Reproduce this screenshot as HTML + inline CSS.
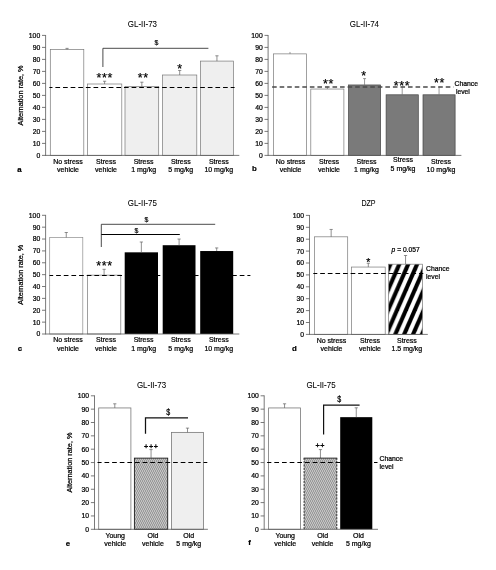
<!DOCTYPE html>
<html lang="en"><head><meta charset="utf-8"><title>Alternation rate figure</title>
<style>html,body{margin:0;padding:0;background:#fff}svg{display:block}text{stroke:#000;stroke-width:.22px}text.t{stroke-width:.06px}</style></head>
<body>
<svg width="496" height="570" viewBox="0 0 496 570" font-family='&quot;Liberation Sans&quot;, sans-serif' fill="#000">
<defs>
<pattern id="stripe" patternUnits="userSpaceOnUse" x="390.3" y="264.6" width="8.87" height="20.31">
<rect x="0" y="0" width="8.87" height="20.31" fill="#fff"/>
<g stroke="#000" stroke-width="4.1">
<line x1="-8.87" y1="40.62" x2="17.74" y2="-20.31"/>
<line x1="-17.74" y1="40.62" x2="8.87" y2="-20.31"/>
<line x1="0" y1="40.62" x2="26.61" y2="-20.31"/>
</g>
</pattern>
<pattern id="hatch" patternUnits="userSpaceOnUse" width="2" height="4">
<rect width="2" height="4" fill="#d8d8d8"/>
<g stroke="#6a6a6a" stroke-width="0.75">
<line x1="-2" y1="-4" x2="2" y2="4"/>
<line x1="0" y1="-4" x2="4" y2="4"/>
<line x1="-4" y1="-4" x2="0" y2="4"/>
</g>
</pattern>
</defs>
<rect width="496" height="570" fill="#fff"/>
<g id="pa">
<text class="t" x="142.40" y="27.00" font-size="8.2" text-anchor="middle" textLength="29.2" lengthAdjust="spacingAndGlyphs">GL-II-73</text>
<rect x="50.30" y="49.56" width="33.50" height="105.84" fill="#fff" stroke="#787878" stroke-width="0.7"/>
<line x1="67.05" y1="49.56" x2="67.05" y2="48.36" stroke="#606060" stroke-width="0.7"/>
<line x1="65.45" y1="48.36" x2="68.65" y2="48.36" stroke="#606060" stroke-width="0.7"/>
<rect x="87.40" y="84.00" width="34.40" height="71.40" fill="#fff" stroke="#787878" stroke-width="0.7"/>
<line x1="104.60" y1="84.00" x2="104.60" y2="81.24" stroke="#606060" stroke-width="0.7"/>
<line x1="103.00" y1="81.24" x2="106.20" y2="81.24" stroke="#606060" stroke-width="0.7"/>
<rect x="125.00" y="86.64" width="33.70" height="68.76" fill="#efefef" stroke="#787878" stroke-width="0.7"/>
<line x1="141.85" y1="86.64" x2="141.85" y2="82.20" stroke="#606060" stroke-width="0.7"/>
<line x1="140.25" y1="82.20" x2="143.45" y2="82.20" stroke="#606060" stroke-width="0.7"/>
<rect x="162.60" y="75.00" width="34.20" height="80.40" fill="#efefef" stroke="#787878" stroke-width="0.7"/>
<line x1="179.70" y1="75.00" x2="179.70" y2="70.44" stroke="#606060" stroke-width="0.7"/>
<line x1="178.10" y1="70.44" x2="181.30" y2="70.44" stroke="#606060" stroke-width="0.7"/>
<rect x="200.40" y="61.08" width="33.10" height="94.32" fill="#efefef" stroke="#787878" stroke-width="0.7"/>
<line x1="216.95" y1="61.08" x2="216.95" y2="55.80" stroke="#606060" stroke-width="0.7"/>
<line x1="215.35" y1="55.80" x2="218.55" y2="55.80" stroke="#606060" stroke-width="0.7"/>
<line x1="45.60" y1="35.00" x2="45.60" y2="155.80" stroke="#585858" stroke-width="0.8"/>
<line x1="42.00" y1="155.40" x2="239.30" y2="155.40" stroke="#585858" stroke-width="0.8"/>
<text x="40.20" y="157.85" font-size="6.8" text-anchor="end">0</text>
<line x1="42.00" y1="143.40" x2="45.60" y2="143.40" stroke="#585858" stroke-width="0.8"/>
<text x="40.20" y="145.85" font-size="6.8" text-anchor="end">10</text>
<line x1="42.00" y1="131.40" x2="45.60" y2="131.40" stroke="#585858" stroke-width="0.8"/>
<text x="40.20" y="133.85" font-size="6.8" text-anchor="end">20</text>
<line x1="42.00" y1="119.40" x2="45.60" y2="119.40" stroke="#585858" stroke-width="0.8"/>
<text x="40.20" y="121.85" font-size="6.8" text-anchor="end">30</text>
<line x1="42.00" y1="107.40" x2="45.60" y2="107.40" stroke="#585858" stroke-width="0.8"/>
<text x="40.20" y="109.85" font-size="6.8" text-anchor="end">40</text>
<line x1="42.00" y1="95.40" x2="45.60" y2="95.40" stroke="#585858" stroke-width="0.8"/>
<text x="40.20" y="97.85" font-size="6.8" text-anchor="end">50</text>
<line x1="42.00" y1="83.40" x2="45.60" y2="83.40" stroke="#585858" stroke-width="0.8"/>
<text x="40.20" y="85.85" font-size="6.8" text-anchor="end">60</text>
<line x1="42.00" y1="71.40" x2="45.60" y2="71.40" stroke="#585858" stroke-width="0.8"/>
<text x="40.20" y="73.85" font-size="6.8" text-anchor="end">70</text>
<line x1="42.00" y1="59.40" x2="45.60" y2="59.40" stroke="#585858" stroke-width="0.8"/>
<text x="40.20" y="61.85" font-size="6.8" text-anchor="end">80</text>
<line x1="42.00" y1="47.40" x2="45.60" y2="47.40" stroke="#585858" stroke-width="0.8"/>
<text x="40.20" y="49.85" font-size="6.8" text-anchor="end">90</text>
<line x1="42.00" y1="35.40" x2="45.60" y2="35.40" stroke="#585858" stroke-width="0.8"/>
<text x="40.20" y="37.85" font-size="6.8" text-anchor="end">100</text>
<text transform="translate(23.30,95.40) rotate(-90)" font-size="6.7" text-anchor="middle" textLength="60" lengthAdjust="spacingAndGlyphs">Alternation rate, %</text>
<line x1="49.40" y1="87.50" x2="234.60" y2="87.50" stroke="#000" stroke-width="1.0" stroke-dasharray="4.7 2.92" stroke-dashoffset="1.62"/>
<path d="M102.9 67 V48.3 H208.4" fill="none" stroke="#2a2a2a" stroke-width="0.85"/>
<text x="156.45" y="45.40" font-size="8.0" text-anchor="middle" textLength="3.84" lengthAdjust="spacingAndGlyphs">$</text>
<text x="104.85" y="81.90" font-size="12.5" text-anchor="middle" letter-spacing="0.7">***</text>
<text x="143.35" y="82.30" font-size="12.5" text-anchor="middle" letter-spacing="0.7">**</text>
<text x="180.15" y="72.60" font-size="12.5" text-anchor="middle" letter-spacing="0.7">*</text>
<text x="68.00" y="163.80" font-size="7.0" text-anchor="middle">No stress</text>
<text x="68.00" y="171.80" font-size="7.0" text-anchor="middle">vehicle</text>
<text x="106.00" y="163.80" font-size="7.0" text-anchor="middle">Stress</text>
<text x="106.00" y="171.80" font-size="7.0" text-anchor="middle">vehicle</text>
<text x="143.60" y="163.50" font-size="7.0" text-anchor="middle">Stress</text>
<text x="143.60" y="171.50" font-size="7.0" text-anchor="middle">1 mg/kg</text>
<text x="180.80" y="163.50" font-size="7.0" text-anchor="middle">Stress</text>
<text x="180.80" y="171.50" font-size="7.0" text-anchor="middle">5 mg/kg</text>
<text x="218.80" y="163.50" font-size="7.0" text-anchor="middle">Stress</text>
<text x="218.80" y="171.50" font-size="7.0" text-anchor="middle">10 mg/kg</text>
<text x="17.20" y="171.60" font-size="7.8" text-anchor="start" font-weight="bold">a</text>
</g>
<g id="pb">
<text class="t" x="364.40" y="26.80" font-size="8.2" text-anchor="middle" textLength="29.2" lengthAdjust="spacingAndGlyphs">GL-II-74</text>
<rect x="273.50" y="53.88" width="33.00" height="101.52" fill="#fff" stroke="#787878" stroke-width="0.7"/>
<line x1="290.00" y1="53.88" x2="290.00" y2="51.96" stroke="#707070" stroke-width="0.7"/>
<line x1="290.00" y1="51.96" x2="290.00" y2="51.96" stroke="#707070" stroke-width="0.7"/>
<rect x="310.80" y="89.04" width="33.10" height="66.36" fill="#fff" stroke="#787878" stroke-width="0.7"/>
<line x1="327.35" y1="89.04" x2="327.35" y2="86.40" stroke="#707070" stroke-width="0.7"/>
<line x1="327.35" y1="86.40" x2="327.35" y2="86.40" stroke="#707070" stroke-width="0.7"/>
<rect x="348.50" y="84.96" width="32.10" height="70.44" fill="#7a7a7a" stroke="#444" stroke-width="0.7"/>
<line x1="364.55" y1="84.96" x2="364.55" y2="78.60" stroke="#707070" stroke-width="0.7"/>
<line x1="363.05" y1="78.60" x2="366.05" y2="78.60" stroke="#707070" stroke-width="0.7"/>
<rect x="386.10" y="94.80" width="32.20" height="60.60" fill="#7a7a7a" stroke="#444" stroke-width="0.7"/>
<line x1="402.20" y1="94.80" x2="402.20" y2="86.40" stroke="#707070" stroke-width="0.7"/>
<line x1="402.20" y1="86.40" x2="402.20" y2="86.40" stroke="#707070" stroke-width="0.7"/>
<rect x="423.00" y="94.80" width="32.10" height="60.60" fill="#7a7a7a" stroke="#444" stroke-width="0.7"/>
<line x1="439.05" y1="94.80" x2="439.05" y2="86.40" stroke="#707070" stroke-width="0.7"/>
<line x1="439.05" y1="86.40" x2="439.05" y2="86.40" stroke="#707070" stroke-width="0.7"/>
<line x1="268.10" y1="35.00" x2="268.10" y2="155.80" stroke="#585858" stroke-width="0.8"/>
<line x1="264.50" y1="155.40" x2="461.40" y2="155.40" stroke="#585858" stroke-width="0.8"/>
<text x="262.70" y="157.85" font-size="6.8" text-anchor="end">0</text>
<line x1="264.50" y1="143.40" x2="268.10" y2="143.40" stroke="#585858" stroke-width="0.8"/>
<text x="262.70" y="145.85" font-size="6.8" text-anchor="end">10</text>
<line x1="264.50" y1="131.40" x2="268.10" y2="131.40" stroke="#585858" stroke-width="0.8"/>
<text x="262.70" y="133.85" font-size="6.8" text-anchor="end">20</text>
<line x1="264.50" y1="119.40" x2="268.10" y2="119.40" stroke="#585858" stroke-width="0.8"/>
<text x="262.70" y="121.85" font-size="6.8" text-anchor="end">30</text>
<line x1="264.50" y1="107.40" x2="268.10" y2="107.40" stroke="#585858" stroke-width="0.8"/>
<text x="262.70" y="109.85" font-size="6.8" text-anchor="end">40</text>
<line x1="264.50" y1="95.40" x2="268.10" y2="95.40" stroke="#585858" stroke-width="0.8"/>
<text x="262.70" y="97.85" font-size="6.8" text-anchor="end">50</text>
<line x1="264.50" y1="83.40" x2="268.10" y2="83.40" stroke="#585858" stroke-width="0.8"/>
<text x="262.70" y="85.85" font-size="6.8" text-anchor="end">60</text>
<line x1="264.50" y1="71.40" x2="268.10" y2="71.40" stroke="#585858" stroke-width="0.8"/>
<text x="262.70" y="73.85" font-size="6.8" text-anchor="end">70</text>
<line x1="264.50" y1="59.40" x2="268.10" y2="59.40" stroke="#585858" stroke-width="0.8"/>
<text x="262.70" y="61.85" font-size="6.8" text-anchor="end">80</text>
<line x1="264.50" y1="47.40" x2="268.10" y2="47.40" stroke="#585858" stroke-width="0.8"/>
<text x="262.70" y="49.85" font-size="6.8" text-anchor="end">90</text>
<line x1="264.50" y1="35.40" x2="268.10" y2="35.40" stroke="#585858" stroke-width="0.8"/>
<text x="262.70" y="37.85" font-size="6.8" text-anchor="end">100</text>
<line x1="272.10" y1="86.90" x2="453.60" y2="86.90" stroke="#4a4a4a" stroke-width="1.5" stroke-dasharray="4.6 2.95" stroke-dashoffset="0"/>
<text x="328.55" y="88.40" font-size="12.5" text-anchor="middle" letter-spacing="0.7">**</text>
<text x="364.05" y="79.70" font-size="12.5" text-anchor="middle" letter-spacing="0.7">*</text>
<text x="402.05" y="89.70" font-size="12.5" text-anchor="middle" letter-spacing="0.7">***</text>
<text x="439.45" y="87.10" font-size="12.5" text-anchor="middle" letter-spacing="0.7">**</text>
<text x="454.60" y="85.70" font-size="6.8" text-anchor="start">Chance</text>
<text x="455.90" y="93.80" font-size="6.8" text-anchor="start">level</text>
<text x="290.60" y="163.80" font-size="7.0" text-anchor="middle">No stress</text>
<text x="290.60" y="171.80" font-size="7.0" text-anchor="middle">vehicle</text>
<text x="329.00" y="163.80" font-size="7.0" text-anchor="middle">Stress</text>
<text x="329.00" y="171.80" font-size="7.0" text-anchor="middle">vehicle</text>
<text x="366.50" y="163.80" font-size="7.0" text-anchor="middle">Stress</text>
<text x="366.50" y="171.80" font-size="7.0" text-anchor="middle">1 mg/kg</text>
<text x="403.00" y="162.40" font-size="7.0" text-anchor="middle">Stress</text>
<text x="403.00" y="170.80" font-size="7.0" text-anchor="middle">5 mg/kg</text>
<text x="441.00" y="163.70" font-size="7.0" text-anchor="middle">Stress</text>
<text x="441.00" y="172.00" font-size="7.0" text-anchor="middle">10 mg/kg</text>
<text x="252.00" y="171.20" font-size="7.8" text-anchor="start" font-weight="bold">b</text>
</g>
<g id="pc">
<text class="t" x="142.30" y="205.80" font-size="8.2" text-anchor="middle" textLength="29.2" lengthAdjust="spacingAndGlyphs">GL-II-75</text>
<rect x="49.70" y="237.50" width="33.10" height="96.50" fill="#fff" stroke="#8c8c8c" stroke-width="0.7"/>
<line x1="66.25" y1="237.50" x2="66.25" y2="232.51" stroke="#606060" stroke-width="0.7"/>
<line x1="64.65" y1="232.51" x2="67.85" y2="232.51" stroke="#606060" stroke-width="0.7"/>
<rect x="87.40" y="275.12" width="33.40" height="58.88" fill="#fff" stroke="#787878" stroke-width="0.7"/>
<line x1="104.10" y1="275.12" x2="104.10" y2="269.31" stroke="#606060" stroke-width="0.7"/>
<line x1="102.50" y1="269.31" x2="105.70" y2="269.31" stroke="#606060" stroke-width="0.7"/>
<rect x="124.70" y="252.33" width="33.30" height="81.67" fill="#000" stroke="#000" stroke-width="0"/>
<line x1="141.35" y1="252.33" x2="141.35" y2="242.01" stroke="#606060" stroke-width="0.7"/>
<line x1="139.75" y1="242.01" x2="142.95" y2="242.01" stroke="#606060" stroke-width="0.7"/>
<rect x="162.70" y="245.21" width="32.80" height="88.79" fill="#000" stroke="#000" stroke-width="0"/>
<line x1="179.10" y1="245.21" x2="179.10" y2="239.04" stroke="#606060" stroke-width="0.7"/>
<line x1="177.50" y1="239.04" x2="180.70" y2="239.04" stroke="#606060" stroke-width="0.7"/>
<rect x="200.20" y="251.03" width="33.00" height="82.97" fill="#000" stroke="#000" stroke-width="0"/>
<line x1="216.70" y1="251.03" x2="216.70" y2="247.94" stroke="#606060" stroke-width="0.7"/>
<line x1="215.10" y1="247.94" x2="218.30" y2="247.94" stroke="#606060" stroke-width="0.7"/>
<line x1="45.60" y1="214.90" x2="45.60" y2="334.40" stroke="#585858" stroke-width="0.8"/>
<line x1="42.00" y1="334.00" x2="239.30" y2="334.00" stroke="#585858" stroke-width="0.8"/>
<text x="40.20" y="336.45" font-size="6.8" text-anchor="end">0</text>
<line x1="42.00" y1="322.13" x2="45.60" y2="322.13" stroke="#585858" stroke-width="0.8"/>
<text x="40.20" y="324.58" font-size="6.8" text-anchor="end">10</text>
<line x1="42.00" y1="310.26" x2="45.60" y2="310.26" stroke="#585858" stroke-width="0.8"/>
<text x="40.20" y="312.71" font-size="6.8" text-anchor="end">20</text>
<line x1="42.00" y1="298.39" x2="45.60" y2="298.39" stroke="#585858" stroke-width="0.8"/>
<text x="40.20" y="300.84" font-size="6.8" text-anchor="end">30</text>
<line x1="42.00" y1="286.52" x2="45.60" y2="286.52" stroke="#585858" stroke-width="0.8"/>
<text x="40.20" y="288.97" font-size="6.8" text-anchor="end">40</text>
<line x1="42.00" y1="274.65" x2="45.60" y2="274.65" stroke="#585858" stroke-width="0.8"/>
<text x="40.20" y="277.10" font-size="6.8" text-anchor="end">50</text>
<line x1="42.00" y1="262.78" x2="45.60" y2="262.78" stroke="#585858" stroke-width="0.8"/>
<text x="40.20" y="265.23" font-size="6.8" text-anchor="end">60</text>
<line x1="42.00" y1="250.91" x2="45.60" y2="250.91" stroke="#585858" stroke-width="0.8"/>
<text x="40.20" y="253.36" font-size="6.8" text-anchor="end">70</text>
<line x1="42.00" y1="239.04" x2="45.60" y2="239.04" stroke="#585858" stroke-width="0.8"/>
<text x="40.20" y="241.49" font-size="6.8" text-anchor="end">80</text>
<line x1="42.00" y1="227.17" x2="45.60" y2="227.17" stroke="#585858" stroke-width="0.8"/>
<text x="40.20" y="229.62" font-size="6.8" text-anchor="end">90</text>
<line x1="42.00" y1="215.30" x2="45.60" y2="215.30" stroke="#585858" stroke-width="0.8"/>
<text x="40.20" y="217.75" font-size="6.8" text-anchor="end">100</text>
<text transform="translate(23.30,274.65) rotate(-90)" font-size="6.7" text-anchor="middle" textLength="60" lengthAdjust="spacingAndGlyphs">Alternation rate, %</text>
<line x1="49.50" y1="275.50" x2="250.40" y2="275.50" stroke="#000" stroke-width="1.0" stroke-dasharray="4.7 2.95" stroke-dashoffset="1.02"/>
<path d="M101.3 247 V224.3 H215.2" fill="none" stroke="#2a2a2a" stroke-width="0.85"/>
<path d="M101.3 234.5 H179.8" fill="none" stroke="#000" stroke-width="1.15"/>
<text x="146.40" y="222.40" font-size="8.0" text-anchor="middle" textLength="3.84" lengthAdjust="spacingAndGlyphs">$</text>
<text x="136.50" y="232.80" font-size="8.0" text-anchor="middle" textLength="3.84" lengthAdjust="spacingAndGlyphs">$</text>
<text x="104.55" y="270.10" font-size="12.5" text-anchor="middle" letter-spacing="0.7">***</text>
<text x="68.00" y="342.00" font-size="7.0" text-anchor="middle">No stress</text>
<text x="68.00" y="350.70" font-size="7.0" text-anchor="middle">vehicle</text>
<text x="106.00" y="342.00" font-size="7.0" text-anchor="middle">Stress</text>
<text x="106.00" y="350.70" font-size="7.0" text-anchor="middle">vehicle</text>
<text x="143.60" y="341.60" font-size="7.0" text-anchor="middle">Stress</text>
<text x="143.60" y="350.70" font-size="7.0" text-anchor="middle">1 mg/kg</text>
<text x="180.80" y="341.60" font-size="7.0" text-anchor="middle">Stress</text>
<text x="180.80" y="350.70" font-size="7.0" text-anchor="middle">5 mg/kg</text>
<text x="218.80" y="341.60" font-size="7.0" text-anchor="middle">Stress</text>
<text x="218.80" y="350.70" font-size="7.0" text-anchor="middle">10 mg/kg</text>
<text x="17.80" y="350.60" font-size="7.8" text-anchor="start" font-weight="bold">c</text>
</g>
<g id="pd">
<text class="t" x="368.50" y="205.80" font-size="8.2" text-anchor="middle" textLength="14.2" lengthAdjust="spacingAndGlyphs">DZP</text>
<rect x="314.60" y="236.82" width="33.10" height="97.58" fill="#fff" stroke="#787878" stroke-width="0.7"/>
<line x1="331.15" y1="236.82" x2="331.15" y2="229.44" stroke="#606060" stroke-width="0.7"/>
<line x1="329.55" y1="229.44" x2="332.75" y2="229.44" stroke="#606060" stroke-width="0.7"/>
<rect x="351.40" y="267.05" width="33.80" height="67.35" fill="#fff" stroke="#787878" stroke-width="0.7"/>
<line x1="368.30" y1="267.05" x2="368.30" y2="263.24" stroke="#606060" stroke-width="0.7"/>
<line x1="366.70" y1="263.24" x2="369.90" y2="263.24" stroke="#606060" stroke-width="0.7"/>
<rect x="388.60" y="264.19" width="33.90" height="70.21" fill="url(#stripe)" stroke="#787878" stroke-width="0.7"/>
<line x1="405.55" y1="264.19" x2="405.55" y2="255.50" stroke="#606060" stroke-width="0.7"/>
<line x1="403.95" y1="255.50" x2="407.15" y2="255.50" stroke="#606060" stroke-width="0.7"/>
<line x1="309.50" y1="215.00" x2="309.50" y2="334.80" stroke="#585858" stroke-width="0.8"/>
<line x1="305.90" y1="334.40" x2="427.80" y2="334.40" stroke="#585858" stroke-width="0.8"/>
<text x="304.10" y="336.85" font-size="6.8" text-anchor="end">0</text>
<line x1="305.90" y1="322.50" x2="309.50" y2="322.50" stroke="#585858" stroke-width="0.8"/>
<text x="304.10" y="324.95" font-size="6.8" text-anchor="end">10</text>
<line x1="305.90" y1="310.60" x2="309.50" y2="310.60" stroke="#585858" stroke-width="0.8"/>
<text x="304.10" y="313.05" font-size="6.8" text-anchor="end">20</text>
<line x1="305.90" y1="298.70" x2="309.50" y2="298.70" stroke="#585858" stroke-width="0.8"/>
<text x="304.10" y="301.15" font-size="6.8" text-anchor="end">30</text>
<line x1="305.90" y1="286.80" x2="309.50" y2="286.80" stroke="#585858" stroke-width="0.8"/>
<text x="304.10" y="289.25" font-size="6.8" text-anchor="end">40</text>
<line x1="305.90" y1="274.90" x2="309.50" y2="274.90" stroke="#585858" stroke-width="0.8"/>
<text x="304.10" y="277.35" font-size="6.8" text-anchor="end">50</text>
<line x1="305.90" y1="263.00" x2="309.50" y2="263.00" stroke="#585858" stroke-width="0.8"/>
<text x="304.10" y="265.45" font-size="6.8" text-anchor="end">60</text>
<line x1="305.90" y1="251.10" x2="309.50" y2="251.10" stroke="#585858" stroke-width="0.8"/>
<text x="304.10" y="253.55" font-size="6.8" text-anchor="end">70</text>
<line x1="305.90" y1="239.20" x2="309.50" y2="239.20" stroke="#585858" stroke-width="0.8"/>
<text x="304.10" y="241.65" font-size="6.8" text-anchor="end">80</text>
<line x1="305.90" y1="227.30" x2="309.50" y2="227.30" stroke="#585858" stroke-width="0.8"/>
<text x="304.10" y="229.75" font-size="6.8" text-anchor="end">90</text>
<line x1="305.90" y1="215.40" x2="309.50" y2="215.40" stroke="#585858" stroke-width="0.8"/>
<text x="304.10" y="217.85" font-size="6.8" text-anchor="end">100</text>
<line x1="313.30" y1="273.50" x2="423.30" y2="273.50" stroke="#000" stroke-width="1.0" stroke-dasharray="4.7 2.9" stroke-dashoffset="0.7"/>
<text x="368.65" y="265.66" font-size="10.5" text-anchor="middle" letter-spacing="0.7">*</text>
<text x="405.6" y="251.7" font-size="6.7" text-anchor="middle"><tspan font-style="italic">p</tspan> = 0.057</text>
<text x="426.00" y="271.00" font-size="6.8" text-anchor="start">Chance</text>
<text x="426.00" y="279.00" font-size="6.8" text-anchor="start">level</text>
<text x="331.50" y="342.80" font-size="7.0" text-anchor="middle">No stress</text>
<text x="331.50" y="351.00" font-size="7.0" text-anchor="middle">vehicle</text>
<text x="370.00" y="342.80" font-size="7.0" text-anchor="middle">Stress</text>
<text x="370.00" y="351.00" font-size="7.0" text-anchor="middle">vehicle</text>
<text x="406.90" y="342.80" font-size="7.0" text-anchor="middle">Stress</text>
<text x="406.90" y="350.90" font-size="7.0" text-anchor="middle">1.5 mg/kg</text>
<text x="292.00" y="350.80" font-size="7.8" text-anchor="start" font-weight="bold">d</text>
</g>
<g id="pe">
<text class="t" x="151.50" y="387.80" font-size="8.2" text-anchor="middle" textLength="29.2" lengthAdjust="spacingAndGlyphs">GL-II-73</text>
<rect x="98.70" y="407.95" width="32.20" height="121.35" fill="#fff" stroke="#787878" stroke-width="0.8"/>
<line x1="114.80" y1="407.95" x2="114.80" y2="403.81" stroke="#606060" stroke-width="0.7"/>
<line x1="113.20" y1="403.81" x2="116.40" y2="403.81" stroke="#606060" stroke-width="0.7"/>
<rect x="134.40" y="458.14" width="33.30" height="71.16" fill="url(#hatch)" stroke="#1a1a1a" stroke-width="0.9"/>
<line x1="151.05" y1="458.14" x2="151.05" y2="449.60" stroke="#606060" stroke-width="0.7"/>
<line x1="149.45" y1="449.60" x2="152.65" y2="449.60" stroke="#606060" stroke-width="0.7"/>
<rect x="171.40" y="432.38" width="32.20" height="96.92" fill="#efefef" stroke="#787878" stroke-width="0.8"/>
<line x1="187.50" y1="432.38" x2="187.50" y2="428.11" stroke="#606060" stroke-width="0.7"/>
<line x1="185.90" y1="428.11" x2="189.10" y2="428.11" stroke="#606060" stroke-width="0.7"/>
<line x1="94.50" y1="395.40" x2="94.50" y2="529.70" stroke="#585858" stroke-width="0.8"/>
<line x1="90.90" y1="529.30" x2="207.90" y2="529.30" stroke="#585858" stroke-width="0.8"/>
<text x="89.10" y="531.75" font-size="6.8" text-anchor="end">0</text>
<line x1="90.90" y1="515.95" x2="94.50" y2="515.95" stroke="#585858" stroke-width="0.8"/>
<text x="89.10" y="518.40" font-size="6.8" text-anchor="end">10</text>
<line x1="90.90" y1="502.60" x2="94.50" y2="502.60" stroke="#585858" stroke-width="0.8"/>
<text x="89.10" y="505.05" font-size="6.8" text-anchor="end">20</text>
<line x1="90.90" y1="489.25" x2="94.50" y2="489.25" stroke="#585858" stroke-width="0.8"/>
<text x="89.10" y="491.70" font-size="6.8" text-anchor="end">30</text>
<line x1="90.90" y1="475.90" x2="94.50" y2="475.90" stroke="#585858" stroke-width="0.8"/>
<text x="89.10" y="478.35" font-size="6.8" text-anchor="end">40</text>
<line x1="90.90" y1="462.55" x2="94.50" y2="462.55" stroke="#585858" stroke-width="0.8"/>
<text x="89.10" y="465.00" font-size="6.8" text-anchor="end">50</text>
<line x1="90.90" y1="449.20" x2="94.50" y2="449.20" stroke="#585858" stroke-width="0.8"/>
<text x="89.10" y="451.65" font-size="6.8" text-anchor="end">60</text>
<line x1="90.90" y1="435.85" x2="94.50" y2="435.85" stroke="#585858" stroke-width="0.8"/>
<text x="89.10" y="438.30" font-size="6.8" text-anchor="end">70</text>
<line x1="90.90" y1="422.50" x2="94.50" y2="422.50" stroke="#585858" stroke-width="0.8"/>
<text x="89.10" y="424.95" font-size="6.8" text-anchor="end">80</text>
<line x1="90.90" y1="409.15" x2="94.50" y2="409.15" stroke="#585858" stroke-width="0.8"/>
<text x="89.10" y="411.60" font-size="6.8" text-anchor="end">90</text>
<line x1="90.90" y1="395.80" x2="94.50" y2="395.80" stroke="#585858" stroke-width="0.8"/>
<text x="89.10" y="398.25" font-size="6.8" text-anchor="end">100</text>
<text transform="translate(72.40,462.55) rotate(-90)" font-size="6.7" text-anchor="middle" textLength="60" lengthAdjust="spacingAndGlyphs">Alternation rate, %</text>
<line x1="97.50" y1="462.50" x2="207.30" y2="462.50" stroke="#000" stroke-width="1.0" stroke-dasharray="4.7 2.92" stroke-dashoffset="0.62"/>
<path d="M145.5 433.7 V417.9 H188.0" fill="none" stroke="#111" stroke-width="1.25"/>
<text x="168.10" y="415.10" font-size="8.2" text-anchor="middle" textLength="3.94" lengthAdjust="spacingAndGlyphs">$</text>
<text x="151.38" y="448.75" font-size="7.2" text-anchor="middle" letter-spacing="0.75" style="stroke-width:.35px">+++</text>
<text x="115.20" y="537.80" font-size="7.0" text-anchor="middle">Young</text>
<text x="115.20" y="545.60" font-size="7.0" text-anchor="middle">vehicle</text>
<text x="152.90" y="537.80" font-size="7.0" text-anchor="middle">Old</text>
<text x="152.90" y="545.60" font-size="7.0" text-anchor="middle">vehicle</text>
<text x="188.80" y="537.80" font-size="7.0" text-anchor="middle">Old</text>
<text x="188.80" y="545.60" font-size="7.0" text-anchor="middle">5 mg/kg</text>
<text x="65.80" y="545.70" font-size="7.8" text-anchor="start" font-weight="bold">e</text>
</g>
<g id="pf">
<text class="t" x="321.00" y="387.80" font-size="8.2" text-anchor="middle" textLength="29.2" lengthAdjust="spacingAndGlyphs">GL-II-75</text>
<rect x="268.60" y="407.95" width="31.90" height="121.35" fill="#fff" stroke="#787878" stroke-width="0.8"/>
<line x1="284.55" y1="407.95" x2="284.55" y2="403.81" stroke="#606060" stroke-width="0.7"/>
<line x1="282.95" y1="403.81" x2="286.15" y2="403.81" stroke="#606060" stroke-width="0.7"/>
<rect x="304.10" y="458.14" width="32.70" height="71.16" fill="url(#hatch)" stroke="none" stroke-width="0"/>
<line x1="320.45" y1="458.14" x2="320.45" y2="449.60" stroke="#606060" stroke-width="0.7"/>
<line x1="318.85" y1="449.60" x2="322.05" y2="449.60" stroke="#606060" stroke-width="0.7"/>
<rect x="340.20" y="417.16" width="32.10" height="112.14" fill="#000" stroke="#000" stroke-width="0"/>
<line x1="356.25" y1="417.16" x2="356.25" y2="407.81" stroke="#606060" stroke-width="0.7"/>
<line x1="354.65" y1="407.81" x2="357.85" y2="407.81" stroke="#606060" stroke-width="0.7"/>
<path d="M304.1 529.3 V458.14 M336.8 529.3 V458.14" fill="none" stroke="#1a1a1a" stroke-width="0.9" stroke-dasharray="2.2 1.1"/>
<path d="M303.65 458.14 H337.25" fill="none" stroke="#1a1a1a" stroke-width="0.9"/>
<line x1="264.20" y1="395.40" x2="264.20" y2="529.70" stroke="#585858" stroke-width="0.8"/>
<line x1="260.60" y1="529.30" x2="378.00" y2="529.30" stroke="#585858" stroke-width="0.8"/>
<text x="258.80" y="531.75" font-size="6.8" text-anchor="end">0</text>
<line x1="260.60" y1="515.95" x2="264.20" y2="515.95" stroke="#585858" stroke-width="0.8"/>
<text x="258.80" y="518.40" font-size="6.8" text-anchor="end">10</text>
<line x1="260.60" y1="502.60" x2="264.20" y2="502.60" stroke="#585858" stroke-width="0.8"/>
<text x="258.80" y="505.05" font-size="6.8" text-anchor="end">20</text>
<line x1="260.60" y1="489.25" x2="264.20" y2="489.25" stroke="#585858" stroke-width="0.8"/>
<text x="258.80" y="491.70" font-size="6.8" text-anchor="end">30</text>
<line x1="260.60" y1="475.90" x2="264.20" y2="475.90" stroke="#585858" stroke-width="0.8"/>
<text x="258.80" y="478.35" font-size="6.8" text-anchor="end">40</text>
<line x1="260.60" y1="462.55" x2="264.20" y2="462.55" stroke="#585858" stroke-width="0.8"/>
<text x="258.80" y="465.00" font-size="6.8" text-anchor="end">50</text>
<line x1="260.60" y1="449.20" x2="264.20" y2="449.20" stroke="#585858" stroke-width="0.8"/>
<text x="258.80" y="451.65" font-size="6.8" text-anchor="end">60</text>
<line x1="260.60" y1="435.85" x2="264.20" y2="435.85" stroke="#585858" stroke-width="0.8"/>
<text x="258.80" y="438.30" font-size="6.8" text-anchor="end">70</text>
<line x1="260.60" y1="422.50" x2="264.20" y2="422.50" stroke="#585858" stroke-width="0.8"/>
<text x="258.80" y="424.95" font-size="6.8" text-anchor="end">80</text>
<line x1="260.60" y1="409.15" x2="264.20" y2="409.15" stroke="#585858" stroke-width="0.8"/>
<text x="258.80" y="411.60" font-size="6.8" text-anchor="end">90</text>
<line x1="260.60" y1="395.80" x2="264.20" y2="395.80" stroke="#585858" stroke-width="0.8"/>
<text x="258.80" y="398.25" font-size="6.8" text-anchor="end">100</text>
<line x1="267.10" y1="462.50" x2="377.50" y2="462.50" stroke="#000" stroke-width="1.0" stroke-dasharray="4.7 2.97" stroke-dashoffset="0.45"/>
<path d="M323.6 434.4 V405.15 H359.6" fill="none" stroke="#111" stroke-width="1.2"/>
<text x="339.20" y="402.20" font-size="8.2" text-anchor="middle" textLength="3.94" lengthAdjust="spacingAndGlyphs">$</text>
<text x="320.20" y="447.65" font-size="7.2" text-anchor="middle" letter-spacing="0.6" style="stroke-width:.35px">++</text>
<text x="379.60" y="461.00" font-size="6.8" text-anchor="start">Chance</text>
<text x="379.60" y="468.80" font-size="6.8" text-anchor="start">level</text>
<text x="285.20" y="537.50" font-size="7.0" text-anchor="middle">Young</text>
<text x="285.20" y="546.10" font-size="7.0" text-anchor="middle">vehicle</text>
<text x="322.60" y="537.50" font-size="7.0" text-anchor="middle">Old</text>
<text x="322.60" y="546.10" font-size="7.0" text-anchor="middle">vehicle</text>
<text x="358.40" y="537.50" font-size="7.0" text-anchor="middle">Old</text>
<text x="358.40" y="546.10" font-size="7.0" text-anchor="middle">5 mg/kg</text>
<text x="248.30" y="545.40" font-size="7.8" text-anchor="start" font-weight="bold">f</text>
</g>
</svg>
</body></html>
